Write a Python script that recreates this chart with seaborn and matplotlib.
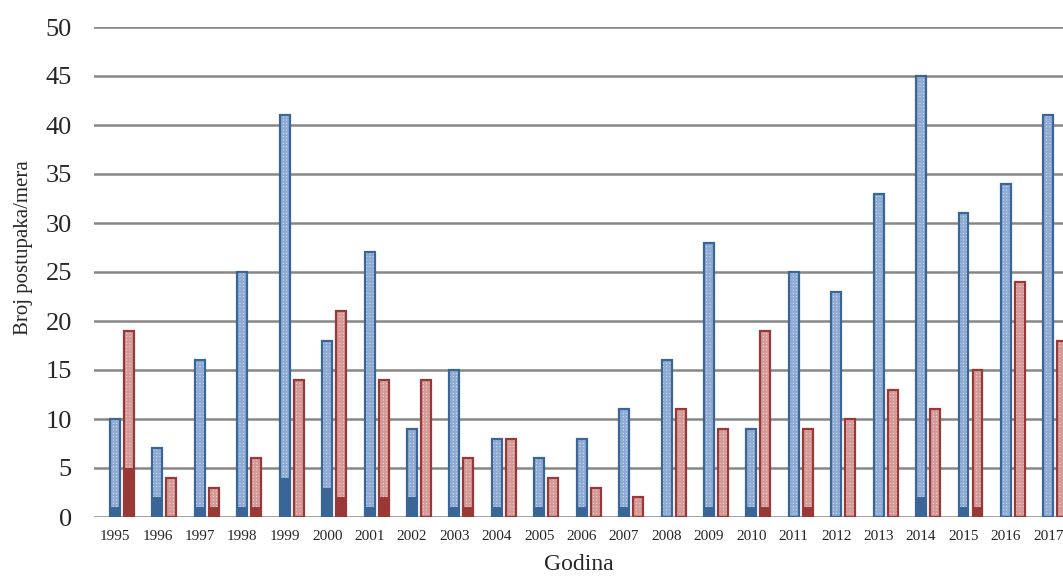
import matplotlib
matplotlib.use("Agg")
import matplotlib.pyplot as plt
import matplotlib.transforms as mtransforms
import pandas as pd
import seaborn as sns

# Podaci
godine = [str(g) for g in range(1995, 2018)]
plavo_ukupno = [10, 7, 16, 25, 41, 18, 27, 9, 15, 8, 6, 8, 11, 16, 28, 9, 25, 23, 33, 45, 31, 34, 41]
crveno_ukupno = [19, 4, 3, 6, 14, 21, 14, 14, 6, 8, 4, 3, 2, 11, 9, 19, 9, 10, 13, 11, 15, 24, 18]
plavo_puno = [1, 2, 1, 1, 4, 3, 1, 2, 1, 1, 1, 1, 1, 0, 1, 1, 0, 0, 0, 2, 1, 0, 0]
crveno_puno = [5, 0, 1, 1, 0, 2, 2, 0, 1, 0, 0, 0, 0, 0, 0, 1, 1, 0, 0, 0, 1, 0, 0]

tipovi = ["A", "B"]
tamne = {"A": "#3a6597", "B": "#993937"}
svetle = {"A": "#e3eaf4", "B": "#f4e2e2"}
srafura = {"A": "#8fabd3", "B": "#d49a98"}

ukupno = pd.DataFrame({
    "godina": godine * 2,
    "broj": plavo_ukupno + crveno_ukupno,
    "tip": ["A"] * len(godine) + ["B"] * len(godine),
})
puno = pd.DataFrame({
    "godina": godine * 2,
    "broj": plavo_puno + crveno_puno,
    "tip": ["A"] * len(godine) + ["B"] * len(godine),
})

sns.set_style("white")
plt.rcParams["font.family"] = ["Liberation Serif", "DejaVu Serif"]
plt.rcParams["hatch.linewidth"] = 1.6

fig = plt.figure(figsize=(10.63, 5.78), dpi=100)
ax = fig.add_axes([94 / 1063, 61 / 578, (1063 - 94) / 1063, 490 / 578])

sirina = 0.66
razmak = 0.29

# Srafirani stubovi (ukupno)
sns.barplot(data=ukupno, x="godina", y="broj", hue="tip", hue_order=tipovi,
            palette=svetle, width=sirina, gap=razmak, legend=False,
            saturation=1, errorbar=None, ax=ax, zorder=3)
for cont, t in zip(ax.containers, tipovi):
    for p in cont:
        p.set_hatch("+++++")
        p.set_edgecolor(srafura[t])
        p.set_linewidth(0)

# Pune donje vrednosti
sns.barplot(data=puno, x="godina", y="broj", hue="tip", hue_order=tipovi,
            palette=tamne, width=sirina, gap=razmak, legend=False,
            saturation=1, errorbar=None, ax=ax, zorder=4, linewidth=0)

# Okviri stubova
sns.barplot(data=ukupno, x="godina", y="broj", hue="tip", hue_order=tipovi,
            palette=tamne, width=sirina, gap=razmak, legend=False,
            saturation=1, errorbar=None, ax=ax, fill=False, linewidth=1.6,
            zorder=5)

# Osa i mreza
ax.set_ylim(0, 50)
ax.set_xlim(-0.66, 22.18)
ax.set_yticks(range(0, 51, 5))
ax.yaxis.grid(True, color="#878787", linewidth=1.8, zorder=0)
ax.set_axisbelow(True)
sns.despine(ax=ax, left=True, bottom=True, top=True, right=True)
ax.tick_params(axis="both", length=0)
ax.tick_params(axis="y", labelsize=19, pad=16)
ax.tick_params(axis="x", labelsize=11, pad=9)

pomak = mtransforms.ScaledTranslation(-7 / 100, 0, fig.dpi_scale_trans)
for lbl in ax.get_xticklabels():
    lbl.set_transform(lbl.get_transform() + pomak)

ax.set_xlabel("Godina", fontsize=17, labelpad=8)
ax.set_ylabel("Broj postupaka/mera", fontsize=15)
ax.yaxis.set_label_coords(-0.063, 0.55)

plt.savefig("out.png", dpi=100)
plt.close()
